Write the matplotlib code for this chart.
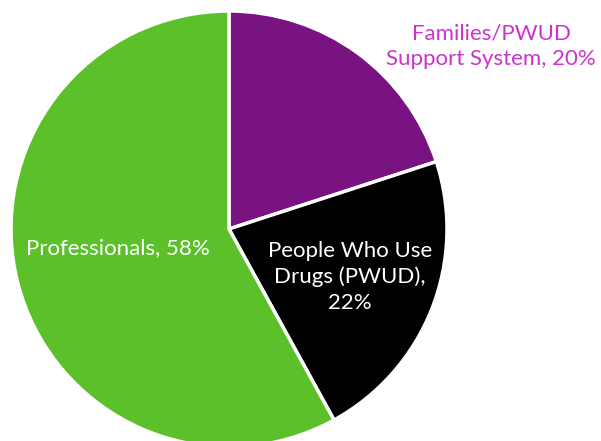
import matplotlib
matplotlib.use("Agg")
import matplotlib.pyplot as plt

labels = ["Families/PWUD\nSupport System, 20%", "People Who Use\nDrugs (PWUD),\n22%", "Professionals, 58%"]
shares = [20, 22, 58]
colors = ["#7A1382", "#000000", "#5CC02A"]
text_colors = ["#CC33CC", "white", "white"]

W, H = 601, 441
fig = plt.figure(figsize=(W / 100, H / 100), dpi=100)
ax = fig.add_axes([0, 0, 1, 1])

cx, cy, r = 229, H - 229, 218
ax.pie(shares, colors=colors, startangle=90, counterclock=False, center=(cx, cy), radius=r,
       wedgeprops=dict(edgecolor="white", linewidth=2.5), frame=True)
ax.set_xlim(0, W); ax.set_ylim(0, H); ax.set_aspect("equal"); ax.axis("off")

# label anchor positions in pixel coords (from top-left)
pos = [(491, 46), (350, 277), (118, 248)]
for lab, tc, (x, y) in zip(labels, text_colors, pos):
    ax.text(x, H - y, lab, color=tc, ha="center", va="center", fontsize=16,
            family="Lato", linespacing=1.35)

fig.savefig("out.png", dpi=100)
